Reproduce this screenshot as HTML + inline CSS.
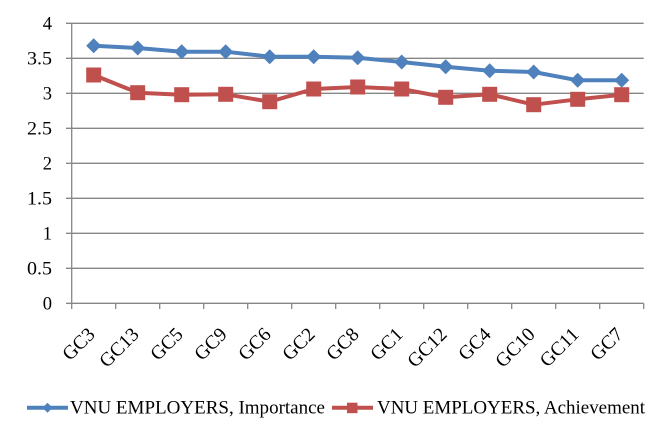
<!DOCTYPE html>
<html>
<head>
<meta charset="utf-8">
<style>
html,body{margin:0;padding:0;background:#fff;}
svg{display:block;}
text{font-family:"Liberation Serif","Times New Roman",serif;fill:#000;}
</style>
</head>
<body>
<svg width="667" height="442" viewBox="0 0 667 442" xmlns="http://www.w3.org/2000/svg">
<rect width="667" height="442" fill="#fff"/>
<!-- gridlines -->
<g stroke="#868686" stroke-width="1.3">
<line x1="66" y1="23.3" x2="643.7" y2="23.3"/>
<line x1="66" y1="58.3" x2="643.7" y2="58.3"/>
<line x1="66" y1="93.3" x2="643.7" y2="93.3"/>
<line x1="66" y1="128.3" x2="643.7" y2="128.3"/>
<line x1="66" y1="163.3" x2="643.7" y2="163.3"/>
<line x1="66" y1="198.3" x2="643.7" y2="198.3"/>
<line x1="66" y1="233.3" x2="643.7" y2="233.3"/>
<line x1="66" y1="268.3" x2="643.7" y2="268.3"/>
<line x1="66" y1="303.3" x2="643.7" y2="303.3"/>
<line x1="71.7" y1="23.3" x2="71.7" y2="303.3"/>
<!-- x ticks -->
<line x1="71.7" y1="303.3" x2="71.7" y2="309"/>
<line x1="115.7" y1="303.3" x2="115.7" y2="309"/>
<line x1="159.7" y1="303.3" x2="159.7" y2="309"/>
<line x1="203.7" y1="303.3" x2="203.7" y2="309"/>
<line x1="247.7" y1="303.3" x2="247.7" y2="309"/>
<line x1="291.7" y1="303.3" x2="291.7" y2="309"/>
<line x1="335.7" y1="303.3" x2="335.7" y2="309"/>
<line x1="379.7" y1="303.3" x2="379.7" y2="309"/>
<line x1="423.7" y1="303.3" x2="423.7" y2="309"/>
<line x1="467.7" y1="303.3" x2="467.7" y2="309"/>
<line x1="511.7" y1="303.3" x2="511.7" y2="309"/>
<line x1="555.7" y1="303.3" x2="555.7" y2="309"/>
<line x1="599.7" y1="303.3" x2="599.7" y2="309"/>
<line x1="643.7" y1="303.3" x2="643.7" y2="309"/>
</g>
<!-- y labels -->
<g font-size="18.5" text-anchor="end">
<text x="52" y="29.5">4</text>
<text x="52" y="64.5" textLength="25" lengthAdjust="spacingAndGlyphs">3.5</text>
<text x="52" y="99.5">3</text>
<text x="52" y="134.5" textLength="25" lengthAdjust="spacingAndGlyphs">2.5</text>
<text x="52" y="169.5">2</text>
<text x="52" y="204.5" textLength="25" lengthAdjust="spacingAndGlyphs">1.5</text>
<text x="52" y="239.5">1</text>
<text x="52" y="274.5" textLength="25" lengthAdjust="spacingAndGlyphs">0.5</text>
<text x="52" y="309.5">0</text>
</g>
<!-- x labels -->
<g font-size="19.5" text-anchor="end">
<text transform="translate(96,335.5) rotate(-45)">GC3</text>
<text transform="translate(140,335.5) rotate(-45)">GC13</text>
<text transform="translate(184,335.5) rotate(-45)">GC5</text>
<text transform="translate(228,335.5) rotate(-45)">GC9</text>
<text transform="translate(272,335.5) rotate(-45)">GC6</text>
<text transform="translate(316,335.5) rotate(-45)">GC2</text>
<text transform="translate(360,335.5) rotate(-45)">GC8</text>
<text transform="translate(404,335.5) rotate(-45)">GC1</text>
<text transform="translate(448,335.5) rotate(-45)">GC12</text>
<text transform="translate(492,335.5) rotate(-45)">GC4</text>
<text transform="translate(536,335.5) rotate(-45)">GC10</text>
<text transform="translate(580,335.5) rotate(-45)">GC11</text>
<text transform="translate(624,335.5) rotate(-45)">GC7</text>
</g>
<!-- Importance series -->
<polyline fill="none" stroke="#4F81BD" stroke-width="4" stroke-linejoin="round"
points="93.7,45.7 137.7,48 181.7,51.7 225.7,51.7 269.7,56.7 313.7,56.7 357.7,57.7 401.7,62 445.7,66.7 489.7,70.7 533.7,72 577.7,80.3 621.7,80.3"/>
<g fill="#4F81BD">
<polygon points="93.7,38.2 101.2,45.7 93.7,53.2 86.2,45.7"/>
<polygon points="137.7,40.5 145.2,48 137.7,55.5 130.2,48"/>
<polygon points="181.7,44.2 189.2,51.7 181.7,59.2 174.2,51.7"/>
<polygon points="225.7,44.2 233.2,51.7 225.7,59.2 218.2,51.7"/>
<polygon points="269.7,49.2 277.2,56.7 269.7,64.2 262.2,56.7"/>
<polygon points="313.7,49.2 321.2,56.7 313.7,64.2 306.2,56.7"/>
<polygon points="357.7,50.2 365.2,57.7 357.7,65.2 350.2,57.7"/>
<polygon points="401.7,54.5 409.2,62 401.7,69.5 394.2,62"/>
<polygon points="445.7,59.2 453.2,66.7 445.7,74.2 438.2,66.7"/>
<polygon points="489.7,63.2 497.2,70.7 489.7,78.2 482.2,70.7"/>
<polygon points="533.7,64.5 541.2,72 533.7,79.5 526.2,72"/>
<polygon points="577.7,72.8 585.2,80.3 577.7,87.8 570.2,80.3"/>
<polygon points="621.7,72.8 629.2,80.3 621.7,87.8 614.2,80.3"/>
</g>
<!-- Achievement series -->
<polyline fill="none" stroke="#C0504D" stroke-width="4" stroke-linejoin="round"
points="93.7,75 137.7,92.7 181.7,94.7 225.7,94.3 269.7,101.7 313.7,89 357.7,87 401.7,89 445.7,97.3 489.7,94.3 533.7,104.7 577.7,99.3 621.7,94.7"/>
<g fill="#C0504D">
<rect x="86.2" y="67.5" width="15" height="15"/>
<rect x="130.2" y="85.2" width="15" height="15"/>
<rect x="174.2" y="87.2" width="15" height="15"/>
<rect x="218.2" y="86.8" width="15" height="15"/>
<rect x="262.2" y="94.2" width="15" height="15"/>
<rect x="306.2" y="81.5" width="15" height="15"/>
<rect x="350.2" y="79.5" width="15" height="15"/>
<rect x="394.2" y="81.5" width="15" height="15"/>
<rect x="438.2" y="89.8" width="15" height="15"/>
<rect x="482.2" y="86.8" width="15" height="15"/>
<rect x="526.2" y="97.2" width="15" height="15"/>
<rect x="570.2" y="91.8" width="15" height="15"/>
<rect x="614.2" y="87.2" width="15" height="15"/>
</g>
<!-- legend -->
<line x1="27" y1="407.7" x2="68" y2="407.7" stroke="#4F81BD" stroke-width="4"/>
<polygon points="47.5,402.7 52.5,407.7 47.5,412.7 42.5,407.7" fill="#4F81BD"/>
<text x="70" y="413.5" font-size="19" textLength="255" lengthAdjust="spacingAndGlyphs">VNU EMPLOYERS, Importance</text>
<line x1="332" y1="407.7" x2="373" y2="407.7" stroke="#C0504D" stroke-width="4"/>
<rect x="347" y="402.7" width="10.5" height="10.5" fill="#C0504D"/>
<text x="377" y="413.5" font-size="19" textLength="268" lengthAdjust="spacingAndGlyphs">VNU EMPLOYERS, Achievement</text>
</svg>
</body>
</html>
